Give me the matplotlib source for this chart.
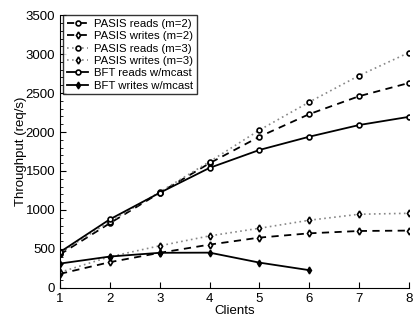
import matplotlib
matplotlib.use("Agg")
import matplotlib.pyplot as plt
from matplotlib.ticker import MultipleLocator

# data
clients = [1, 2, 3, 4, 5, 6, 7, 8]
pasis_reads_m2 = [430, 830, 1220, 1600, 1940, 2230, 2460, 2630]
pasis_writes_m2 = [180, 330, 450, 555, 645, 700, 730, 735]
pasis_reads_m3 = [450, 850, 1230, 1620, 2025, 2385, 2725, 3020]
pasis_writes_m3 = [200, 400, 540, 667, 765, 868, 945, 957]
bft_clients = [1, 2, 3, 4, 5, 6]
bft_reads = [460, 880, 1220, 1540, 1770, 1940, 2090, 2195]
bft_writes = [312, 402, 450, 452, 324, 227]

plt.rcParams['font.family'] = ['Liberation Sans', 'DejaVu Sans']

fig = plt.figure(figsize=(4.14, 3.22), dpi=100)
ax = fig.add_axes([0.145, 0.106, 0.843, 0.847])

mk = dict(markersize=3.5, markeredgewidth=1.2, markerfacecolor='white', markeredgecolor='black')

ax.plot(clients, pasis_reads_m2, color='black', ls=(0, (4, 3)), lw=1.3, marker='o', label='PASIS reads (m=2)', **mk)
ax.plot(clients, pasis_writes_m2, color='black', ls=(0, (4, 3)), lw=1.3, marker='d', label='PASIS writes (m=2)', **mk)
ax.plot(clients, pasis_reads_m3, color='#888888', ls=(0, (1, 2)), lw=1.2, marker='o', label='PASIS reads (m=3)', **mk)
ax.plot(clients, pasis_writes_m3, color='#888888', ls=(0, (1, 2)), lw=1.2, marker='d', label='PASIS writes (m=3)', **mk)
ax.plot(clients, bft_reads, color='black', ls='-', lw=1.3, marker='o', label='BFT reads w/mcast', **mk)
ax.plot(bft_clients, bft_writes, color='black', ls='-', lw=1.3, marker='d', label='BFT writes w/mcast',
        markersize=3.5, markerfacecolor='black', markeredgecolor='black')

ax.set_xlim(1, 8)
ax.set_ylim(0, 3500)
ax.set_xticks(clients)
ax.yaxis.set_major_locator(MultipleLocator(500))
ax.yaxis.set_minor_locator(MultipleLocator(100))
ax.tick_params(direction='in', labelsize=9.5, length=4)
ax.tick_params(which='minor', direction='in', length=2)
ax.spines['top'].set_visible(False)
ax.spines['right'].set_visible(False)
ax.set_xlabel('Clients', fontsize=9.5, labelpad=0)
ax.set_ylabel('Throughput (req/s)', fontsize=9.5)
ax.yaxis.set_label_coords(-0.095, 0.5)

leg = ax.legend(loc='upper left', bbox_to_anchor=(0.008, 1.0), fontsize=8.2, frameon=True, fancybox=False,
                edgecolor='black', handlelength=1.9, handletextpad=0.5, borderpad=0.35, labelspacing=0.2,
                borderaxespad=0)
leg.get_frame().set_linewidth(1.0)

fig.savefig('out.png', dpi=100)
